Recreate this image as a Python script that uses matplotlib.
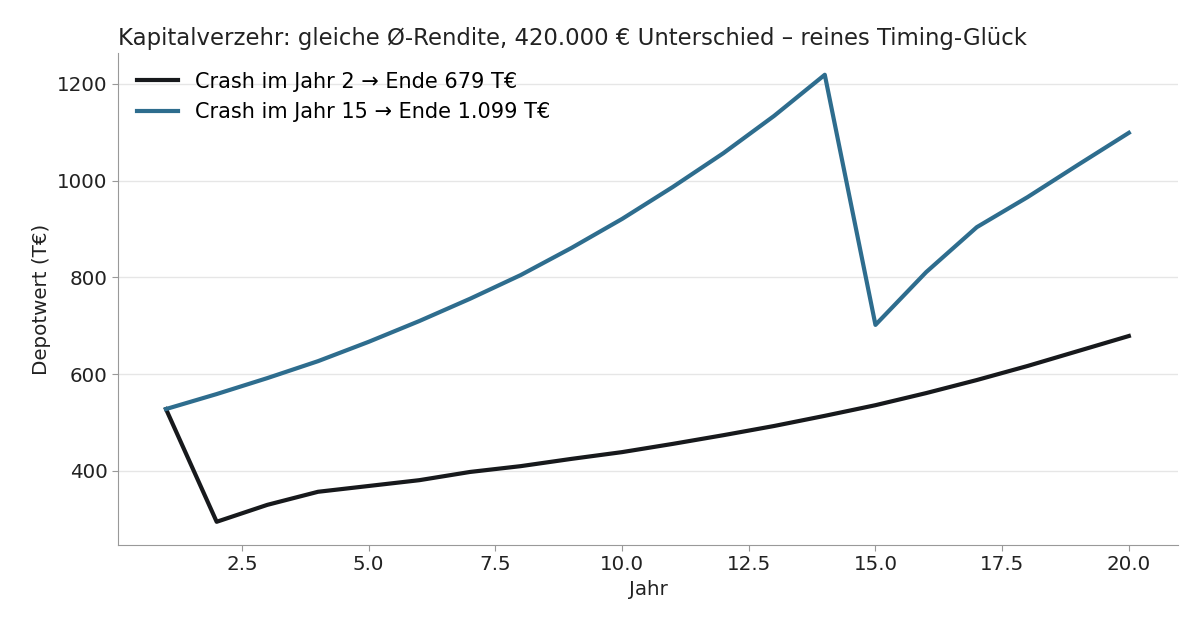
import matplotlib
matplotlib.use("Agg")
import matplotlib.pyplot as plt

years = list(range(1, 21))
early = [528, 295, 330, 357, 369, 381, 398, 410, 425, 439, 456, 474, 493, 514, 536, 561, 588, 617, 648, 679]
late = [528, 559, 592, 627, 667, 710, 756, 805, 861, 921, 987, 1057, 1134, 1219, 702, 811, 904, 966, 1033, 1099]
labels = ["Crash im Jahr 2 → Ende 679 T€", "Crash im Jahr 15 → Ende 1.099 T€"]

fig = plt.figure(figsize=(12, 6.3), dpi=100)
ax = fig.add_axes([118/1200, 1-545/630, (1178-118)/1200, (545-53)/630])
ax.plot(years, early, color="#17191c", lw=3, label=labels[0])
ax.plot(years, late, color="#2e6d8e", lw=3, label=labels[1])
ax.set_xlim(0.053, 20.97)
ax.set_ylim(247, 1264)
ax.set_yticks([400, 600, 800, 1000, 1200])
ax.grid(axis="y", color="#e6e6e6", lw=1)
ax.set_axisbelow(True)
for s in ["top", "right"]:
    ax.spines[s].set_visible(False)
for s in ["left", "bottom"]:
    ax.spines[s].set_color("#999999")
ax.tick_params(labelsize=14.3, colors="#222222", length=4)
ax.tick_params(axis="both", color="#999999")
ax.set_xlabel("Jahr", fontsize=14.3, color="#222222")
ax.set_ylabel("Depotwert (T€)", fontsize=14.3, color="#222222")
ax.set_title("Kapitalverzehr: gleiche Ø-Rendite, 420.000 € Unterschied – reines Timing-Glück",
             loc="left", fontsize=16.4, color="#222222", pad=6)
ax.legend(loc="upper left", frameon=False, fontsize=15, handlelength=2.0)
fig.savefig("out.png")
